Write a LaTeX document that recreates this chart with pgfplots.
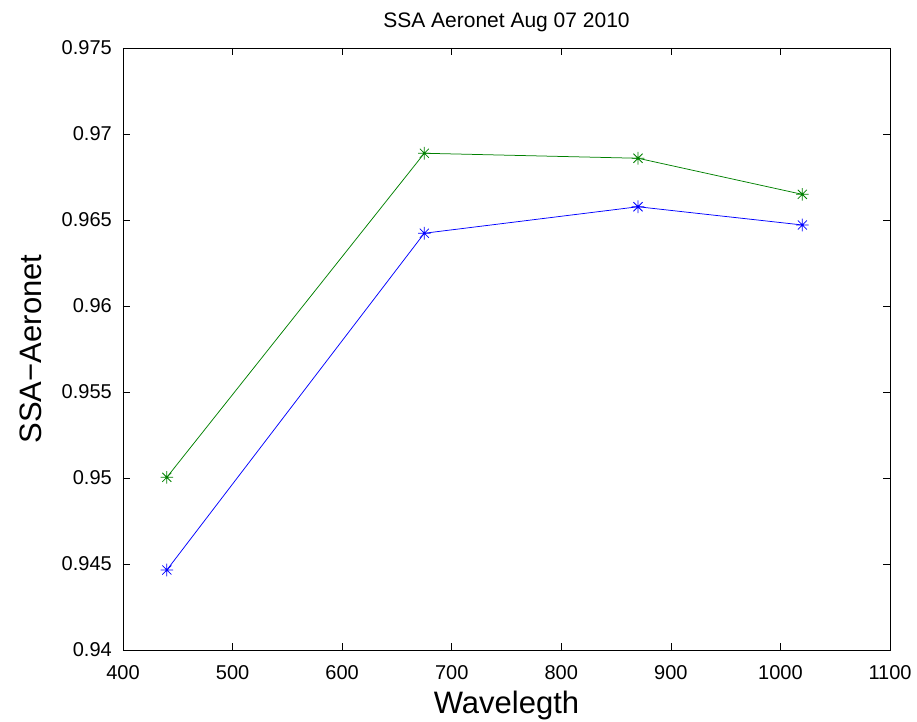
\documentclass[border=0pt]{standalone}
\usepackage{pgfplots}
\pgfplotsset{compat=1.18}
\usepackage{fontspec}
\setmainfont{Liberation Sans}
\definecolor{mblue}{rgb}{0,0,1}
\definecolor{mgreen}{rgb}{0,0.5,0}
\pgfdeclareplotmark{mstar}{%
  \pgfpathmoveto{\pgfqpoint{-\pgfplotmarksize}{0pt}}\pgfpathlineto{\pgfqpoint{\pgfplotmarksize}{0pt}}%
  \pgfpathmoveto{\pgfqpoint{0pt}{-\pgfplotmarksize}}\pgfpathlineto{\pgfqpoint{0pt}{\pgfplotmarksize}}%
  \pgfpathmoveto{\pgfqpoint{-0.72\pgfplotmarksize}{-0.72\pgfplotmarksize}}\pgfpathlineto{\pgfqpoint{0.72\pgfplotmarksize}{0.72\pgfplotmarksize}}%
  \pgfpathmoveto{\pgfqpoint{-0.72\pgfplotmarksize}{0.72\pgfplotmarksize}}\pgfpathlineto{\pgfqpoint{0.72\pgfplotmarksize}{-0.72\pgfplotmarksize}}%
  \pgfusepathqstroke}
\pgfplotstableread{
x y
440 0.94465
675 0.96423
870 0.96577
1020 0.96471
}\blueser
\pgfplotstableread{
x y
440 0.95004
675 0.96888
870 0.96859
1020 0.96649
}\greenser
\begin{document}
\begin{tikzpicture}
\begin{axis}[
  scale only axis,
  width=767bp, height=602bp,
  xmin=400, xmax=1100, ymin=0.94, ymax=0.975,
  xtick={400,500,...,1100},
  ytick={0.94,0.945,0.95,0.955,0.96,0.965,0.97,0.975},
  scaled y ticks=false, scaled x ticks=false,
  tick align=inside, major tick length=7bp,
  xtick pos=both, ytick pos=both,
  axis line style={line width=0.8bp},
  every tick/.style={black, line width=0.6bp},
  /pgf/number format/assume math mode=true,
  /pgf/number format/1000 sep={},
  yticklabel style={/pgf/number format/fixed, /pgf/number format/precision=3, anchor=east, inner sep=0pt, xshift=-11bp},
  xticklabel style={anchor=base, inner sep=0pt, yshift=-29bp},
  tick label style={font=\fontsize{20bp}{24bp}\selectfont},
  title={SSA Aeronet Aug 07 2010},
  xlabel={Wavelegth},
  ylabel={SSA\textminus Aeronet},
  every axis title/.style={at={(axis description cs:0.5,1)}, yshift=20bp, anchor=base, inner sep=0pt, font=\fontsize{21bp}{25bp}\selectfont},
  every axis x label/.style={at={(axis description cs:0.5,0)}, yshift=-63bp, anchor=base, inner sep=0pt, font=\fontsize{31bp}{36bp}\selectfont},
  every axis y label/.style={at={(axis description cs:0,0.5)}, xshift=-81bp, rotate=90, anchor=base, inner sep=0pt, font=\fontsize{31bp}{36bp}\selectfont},
]
\addplot[mgreen, line width=0.75bp, mark=mstar, mark size=6.3bp, mark options={line width=0.75bp}] table[x=x,y=y] {\greenser};
\addplot[mblue, line width=0.75bp, mark=mstar, mark size=6.3bp, mark options={line width=0.75bp}] table[x=x,y=y] {\blueser};
\end{axis}
\pgfresetboundingbox
\path ([shift={(-123bp,-72bp)}]current axis.south west) rectangle ([shift={(27bp,48bp)}]current axis.north east);
\end{tikzpicture}
\end{document}
